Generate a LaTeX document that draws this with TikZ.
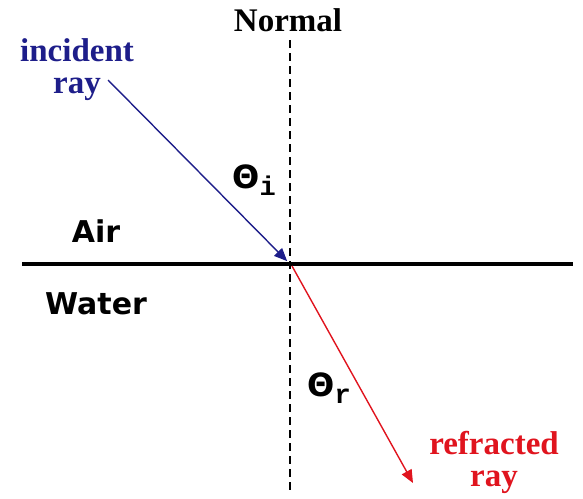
\documentclass[tikz,border=0pt]{standalone}
\usepackage{fontspec}
\setmainfont{Liberation Serif}
\newfontfamily\labsans{DejaVu Sans}
\newfontfamily\labmono{Liberation Mono}
\usetikzlibrary{arrows.meta}
\definecolor{incblue}{HTML}{1E1E8A}
\definecolor{refred}{HTML}{E0141E}
\newcommand{\angsub}[1]{\raisebox{-7pt}{\labmono\fontsize{27}{27}\selectfont\bfseries #1}}
\tikzset{
  serlabel/.style={font=\fontsize{33}{32}\selectfont\bfseries, inner sep=0pt, align=center},
  sanslabel/.style={font=\labsans\fontsize{30}{30}\selectfont\bfseries, inner sep=0pt},
  anglabel/.style={font=\labsans\fontsize{32}{32}\selectfont\bfseries, inner sep=0pt},
  ray/.style={line width=1.4pt, -{Triangle[length=13pt,width=11pt]}},
}
\begin{document}
\begin{tikzpicture}[x=1pt,y=-1pt]
\useasboundingbox (0,0) rectangle (583,498);
% coordinates
\coordinate (O) at (290,264);
\coordinate (sl) at (22,264);
\coordinate (sr) at (573,264);
\coordinate (nt) at (290,40);
\coordinate (nb) at (290,492);
\coordinate (is) at (108,80);
\coordinate (rs) at (292,266);
\coordinate (re) at (413,483);
% surface
\draw[line width=4pt] (sl) -- (sr);
% normal
\draw[line width=2pt, dash pattern=on 8pt off 5pt] (nt) -- (nb);
% rays
\draw[ray, incblue, shorten >=4pt] (is) -- (O);
\draw[ray, refred] (rs) -- (re);
% labels
\node[serlabel] (normal) at (288,20) {Normal};
\node[serlabel, incblue] (inc) at (77,70) {incident\\ray};
\node[serlabel, refred] (ref) at (494,462) {refracted\\ray};
\node[sanslabel] (air) at (96,231) {Air};
\node[sanslabel] (water) at (96,304) {Water};
\node[anglabel] (thi) at (254,180) {Θ\angsub{i}};
\node[anglabel] (thr) at (329,388) {Θ\angsub{r}};
\end{tikzpicture}
\end{document}
